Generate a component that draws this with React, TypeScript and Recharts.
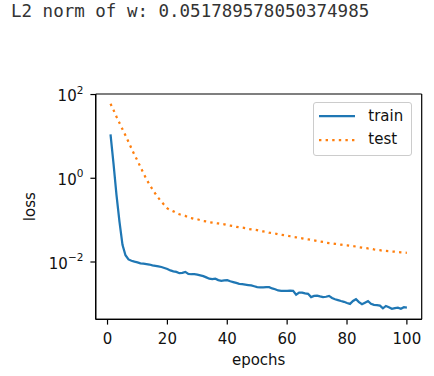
import React from 'react';
import { LineChart, Line, XAxis, YAxis, Label, CartesianGrid } from 'recharts';

const epochs = Array.from({ length: 100 }, (_, i) => i + 1);

const trainLoss = [
  11.2, 2.24, 0.398, 0.0912, 0.0257, 0.0145, 0.0115, 0.0107, 0.0102, 0.0098,
  0.0093, 0.0091, 0.0089, 0.0087, 0.0083, 0.0081, 0.0079, 0.0076, 0.0072, 0.0068,
  0.0063, 0.006, 0.0058, 0.0054, 0.0055, 0.0058, 0.0052, 0.0051, 0.0051, 0.005,
  0.0048, 0.0046, 0.0043, 0.004, 0.0039, 0.004, 0.0037, 0.00355, 0.00363, 0.0037,
  0.00347, 0.00331, 0.00316, 0.00302, 0.00295, 0.00288, 0.00282, 0.00275, 0.00263, 0.00251,
  0.00248, 0.00248, 0.00251, 0.00251, 0.00234, 0.00224, 0.00209, 0.00204, 0.00204, 0.00204,
  0.00207, 0.00204, 0.00166, 0.00186, 0.00186, 0.00178, 0.00174, 0.00145, 0.00155, 0.00158,
  0.00151, 0.00145, 0.00148, 0.00155, 0.00138, 0.00129, 0.00123, 0.00117, 0.00112, 0.00105,
  0.001, 0.00117, 0.00129, 0.0011, 0.00098, 0.00107, 0.00117, 0.001, 0.00095, 0.00093,
  0.00091, 0.00078, 0.00089, 0.00083, 0.00076, 0.00079, 0.00081, 0.00076, 0.00083, 0.00081,
];

const testLoss = [
  60.3, 42.7, 29.5, 20.9, 14.8, 10.5, 7.41, 5.13, 3.63, 2.63,
  1.86, 1.32, 0.955, 0.708, 0.55, 0.427, 0.339, 0.275, 0.229, 0.191,
  0.174, 0.162, 0.148, 0.138, 0.132, 0.126, 0.117, 0.112, 0.107, 0.105,
  0.1, 0.0955, 0.0933, 0.0891, 0.0871, 0.0851, 0.0832, 0.0813, 0.0794, 0.0759,
  0.0741, 0.0724, 0.0692, 0.0676, 0.0661, 0.0646, 0.0617, 0.0603, 0.0589, 0.0575,
  0.055, 0.0537, 0.0525, 0.0501, 0.049, 0.0479, 0.0457, 0.0447, 0.0437, 0.0427,
  0.0412, 0.0398, 0.0389, 0.0376, 0.0367, 0.0355, 0.0347, 0.0339, 0.0327, 0.0316,
  0.0309, 0.0302, 0.0288, 0.0282, 0.0279, 0.0272, 0.0266, 0.026, 0.0254, 0.0251,
  0.0245, 0.024, 0.0234, 0.0226, 0.0221, 0.0216, 0.0211, 0.0207, 0.02, 0.0195,
  0.0191, 0.0186, 0.0184, 0.0182, 0.0178, 0.0176, 0.0174, 0.017, 0.0168, 0.0166,
];

const xTicks = [0, 20, 40, 60, 80, 100];
const yTicks = [100, 1, 0.01];
const yTickExponents = ['2', '0', '\u22122'];

const xDomain: [number, number] = [-3.95, 104.95];
const yDomain: [number, number] = [0.000428, 103];

const series = [
  { key: 'train', color: '#1f77b4', dash: undefined as string | undefined },
  { key: 'test', color: '#ff7f0e', dash: '2.4 4.2' },
];

const data = epochs.map((e, i) => ({ epoch: e, train: trainLoss[i], test: testLoss[i] }));

const FONT = '"DejaVu Sans", sans-serif';
const INK = '#111';

function XTick({ x, y, payload }: any) {
  return (
    <text x={x} y={y} dy={17} textAnchor="middle" fontFamily={FONT} fontSize={15} fill={INK}>
      {payload.value}
    </text>
  );
}

function YTick({ x, y, payload }: any) {
  const idx = yTicks.indexOf(payload.value);
  return (
    <text x={x - 5} y={y} dy={6.7} textAnchor="end" fontFamily={FONT} fontSize={15} fill={INK}>
      <tspan>10</tspan>
      <tspan dy={-7.7} fontSize={10.5}>{yTickExponents[idx]}</tspan>
    </text>
  );
}

function YLabel({ viewBox }: any) {
  const cx = viewBox.x - 0.7;
  const cy = viewBox.y + viewBox.height / 2;
  return (
    <text x={cx} y={cy} textAnchor="middle" transform={`rotate(-90, ${cx}, ${cy})`} fontFamily={FONT} fontSize={15} fill={INK}>
      loss
    </text>
  );
}

function XLabel({ viewBox }: any) {
  const cx = viewBox.x + viewBox.width / 2;
  return (
    <text x={cx} y={viewBox.y + 46} textAnchor="middle" fontFamily={FONT} fontSize={15} fill={INK}>
      epochs
    </text>
  );
}

function LegendBox() {
  return (
    <div
      style={{
        position: 'absolute',
        left: 313.3,
        top: 102.3,
        width: 99,
        height: 54,
        boxSizing: 'border-box',
        border: '1px solid #ccc',
        borderRadius: 3,
        background: 'rgba(255,255,255,0.8)',
        paddingTop: 1,
      }}
    >
      {series.map((s) => (
        <div key={s.key} style={{ display: 'flex', alignItems: 'center', height: 23.5, paddingLeft: 5 }}>
          <svg width={36} height={6}>
            <line x1={0} y1={3} x2={36} y2={3} stroke={s.color} strokeWidth={2.25} strokeDasharray={s.dash} />
          </svg>
          <span style={{ marginLeft: 13, fontFamily: FONT, fontSize: 15, color: INK, lineHeight: '15px' }}>{s.key}</span>
        </div>
      ))}
    </div>
  );
}

const spine = { stroke: '#000', strokeWidth: 1.2 };

export default function App() {
  return (
    <div style={{ position: 'absolute', left: 0, top: 0, width: 434, height: 376, background: '#fff' }}>
      <div
        style={{
          position: 'absolute',
          left: 11,
          top: 1,
          fontFamily: '"DejaVu Sans Mono", monospace',
          fontSize: 17.5,
          color: '#333',
          whiteSpace: 'pre',
          lineHeight: '20px',
        }}
      >
        L2 norm of w: 0.051789578050374985
      </div>
      <div style={{ position: 'absolute', left: 0, top: 0 }}>
        <LineChart width={434} height={376} data={data} margin={{ top: 94, right: 12.3, bottom: 26.7, left: 35.7 }}>
          {/* frame: only the plot-area edges, like matplotlib spines */}
          <CartesianGrid
            stroke="#000"
            strokeWidth={1.2}
            horizontalCoordinatesGenerator={({ offset }: any) => [offset.top, offset.top + offset.height]}
            verticalCoordinatesGenerator={({ offset }: any) => [offset.left, offset.left + offset.width]}
          />
          <XAxis
            dataKey="epoch"
            type="number"
            domain={xDomain}
            ticks={xTicks}
            allowDataOverflow
            height={30}
            axisLine={spine}
            tickLine={spine}
            tickSize={5.3}
            tick={<XTick />}
          >
            <Label content={<XLabel />} />
          </XAxis>
          <YAxis
            type="number"
            scale="log"
            domain={yDomain}
            ticks={yTicks}
            allowDataOverflow
            width={60}
            axisLine={spine}
            tickLine={spine}
            tickSize={5.3}
            tick={<YTick />}
          >
            <Label content={<YLabel />} />
          </YAxis>
          {series.map((s) => (
            <Line
              key={s.key}
              name={s.key}
              dataKey={s.key}
              stroke={s.color}
              strokeWidth={2.25}
              strokeDasharray={s.dash}
              dot={false}
              isAnimationActive={false}
            />
          ))}
        </LineChart>
      </div>
      <LegendBox />
    </div>
  );
}
